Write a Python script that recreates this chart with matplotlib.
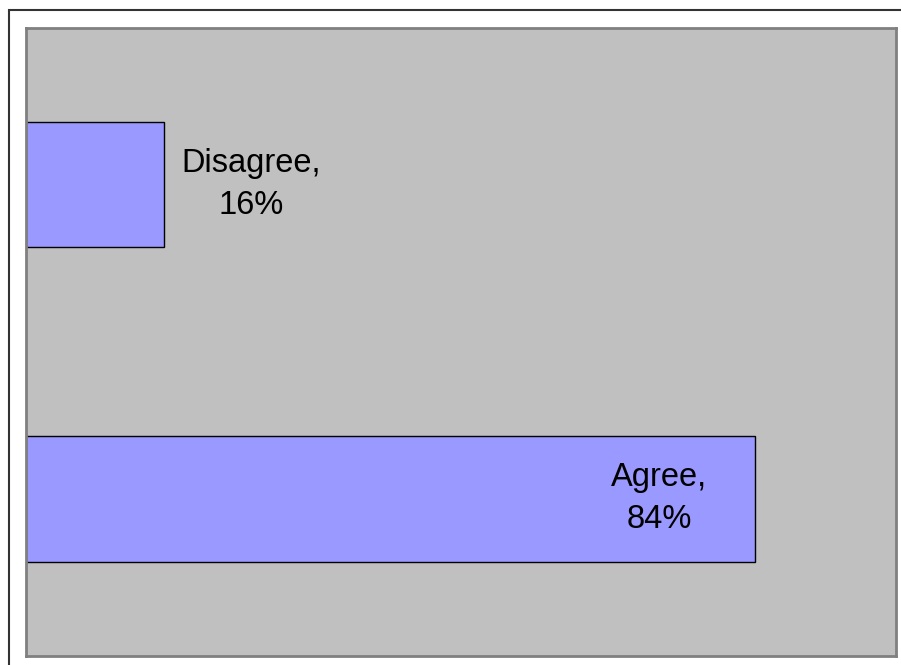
import matplotlib.pyplot as plt
from matplotlib.patches import Rectangle

categories = ["Agree", "Disagree"]
values = [84, 16]

plt.rcParams["font.family"] = ["Liberation Sans", "DejaVu Sans"]

W, H = 901, 665
fig = plt.figure(figsize=(W / 100, H / 100), dpi=100)
fig.patch.set_facecolor("white")

# outer frame (only top/left visible in the original)
fig.patches.append(Rectangle((8.5 / W, -0.5), 1.5, 1.5 - 10 / H,
                             transform=fig.transFigure, fill=False,
                             edgecolor="#333333", linewidth=1.5))

ax = fig.add_axes([25.5 / W, 1 - 656 / H, (896 - 25.5) / W, (656 - 27.5) / H])
ax.set_facecolor("#C0C0C0")
for s in ax.spines.values():
    s.set_color("#808080")
    s.set_linewidth(2)

ax.barh(range(len(categories)), values, height=0.4, color="#9999FF",
        edgecolor="black", linewidth=1)
ax.set_xlim(0, 100.3)
ax.set_ylim(-0.5, 1.5)
ax.set_xticks([])
ax.set_yticks([])

for i, (c, v) in enumerate(zip(categories, values)):
    x = v - 11 if v > 50 else v + 10
    ax.text(x, i, f"{c},\n{v}%", ha="center", va="center", fontsize=23.5,
            linespacing=1.45)

fig.savefig("out.png", dpi=100)
